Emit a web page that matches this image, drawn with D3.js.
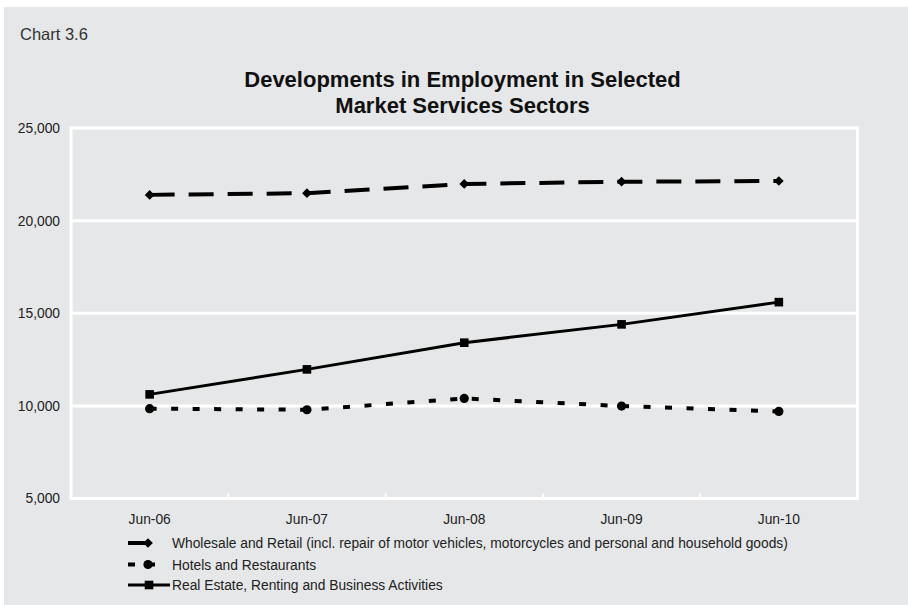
<!DOCTYPE html>
<html>
<head>
<meta charset="utf-8">
<script src="https://cdn.jsdelivr.net/npm/d3@7"></script>
<style>
  html, body { margin: 0; padding: 0; background: #ffffff; }
  svg { display: block; font-family: "Liberation Sans", Arial, Helvetica, sans-serif; }
</style>
</head>
<body>
<svg id="chart" width="908" height="605"></svg>
<script>
// ---- Data ----
const categories = ["Jun-06", "Jun-07", "Jun-08", "Jun-09", "Jun-10"];
const wholesaleValues = [21390, 21480, 21980, 22100, 22140];
const hotelsValues = [9850, 9790, 10400, 9990, 9700];
const realEstateValues = [10620, 11970, 13410, 14400, 15600];
const yTickValues = [5000, 10000, 15000, 20000, 25000];
const seriesNames = [
  "Wholesale and Retail (incl. repair of motor vehicles, motorcycles and personal and household goods)",
  "Hotels and Restaurants",
  "Real Estate, Renting and Business Activities"
];
const chartLabel = "Chart 3.6";
const titleLines = ["Developments in Employment in Selected", "Market Services Sectors"];

// ---- Layout ----
const svg = d3.select("#chart");
const bg = "#e6e7e8";
svg.append("rect").attr("x", 4).attr("y", 7).attr("width", 904).attr("height", 598).attr("fill", bg);

const plot = { left: 71, right: 857.5, top: 128, bottom: 498.5 };

const x = d3.scaleBand().domain(categories).range([plot.left, plot.right]).padding(0);
const y = d3.scaleLinear().domain([5000, 25000]).range([plot.bottom, plot.top]);
const cx = d => x(d) + x.bandwidth() / 2;

// Chart label + title
svg.append("text").attr("x", 20).attr("y", 40).attr("font-size", 16.5).attr("fill", "#333").text(chartLabel);
svg.append("g").selectAll("text").data(titleLines).join("text")
  .attr("x", 462.5).attr("y", (d, i) => 87 + i * 26)
  .attr("text-anchor", "middle").attr("font-size", 22).attr("font-weight", "bold").attr("fill", "#111")
  .text(d => d);

// Gridlines (white)
svg.append("g").selectAll("line").data(yTickValues).join("line")
  .attr("x1", plot.left).attr("x2", plot.right)
  .attr("y1", d => y(d)).attr("y2", d => y(d))
  .attr("stroke", "#fff").attr("stroke-width", 3);
// Frame
svg.append("rect").attr("x", plot.left).attr("y", plot.top)
  .attr("width", plot.right - plot.left).attr("height", plot.bottom - plot.top)
  .attr("fill", "none").attr("stroke", "#fff").attr("stroke-width", 3);

// Y axis labels
const yAxis = d3.axisLeft(y).tickValues(yTickValues).tickSize(0).tickPadding(0)
  .tickFormat(d3.format(","));
const gy = svg.append("g").attr("transform", `translate(60,0)`).call(yAxis);
gy.select(".domain").remove();
gy.selectAll("text").attr("font-size", 13.8).attr("fill", "#222")
  .attr("font-family", "'Liberation Sans', Arial, sans-serif");

// X axis: tick marks at category boundaries (white, pointing up)
const boundaries = categories.slice(1).map(c => x(c));
svg.append("g").selectAll("line").data(boundaries).join("line")
  .attr("x1", d => d).attr("x2", d => d)
  .attr("y1", plot.bottom).attr("y2", plot.bottom - 5)
  .attr("stroke", "#fff").attr("stroke-width", 2);

const xAxis = d3.axisBottom(x).tickSize(0).tickPadding(0);
const gx = svg.append("g").attr("transform", `translate(0,${plot.bottom + 16})`).call(xAxis);
gx.select(".domain").remove();
gx.selectAll("text").attr("font-size", 13.8).attr("fill", "#222")
  .attr("font-family", "'Liberation Sans', Arial, sans-serif");

// ---- Series ----
const series = [
  { name: seriesNames[0], values: wholesaleValues, dash: "25,14", width: 4, marker: "diamond" },
  { name: seriesNames[1], values: hotelsValues, dash: "7,14.5", width: 4, marker: "circle" },
  { name: seriesNames[2], values: realEstateValues, dash: null, width: 3, marker: "square" }
];

const line = d3.line().x(d => cx(d.cat)).y(d => y(d.v));

function drawMarker(g, type, px, py) {
  if (type === "diamond") {
    g.append("path").attr("d", d3.symbol(d3.symbolDiamond2, 60)()).attr("transform", `translate(${px},${py})`).attr("fill", "#000");
  } else if (type === "circle") {
    g.append("circle").attr("cx", px).attr("cy", py).attr("r", 4.6).attr("fill", "#000");
  } else {
    g.append("rect").attr("x", px - 4.3).attr("y", py - 4.3).attr("width", 8.6).attr("height", 8.6).attr("fill", "#000");
  }
}

series.forEach(s => {
  const pts = categories.map((c, i) => ({ cat: c, v: s.values[i] }));
  const g = svg.append("g");
  g.append("path").datum(pts).attr("d", line)
    .attr("fill", "none").attr("stroke", "#000").attr("stroke-width", s.width)
    .attr("stroke-dasharray", s.dash).attr("stroke-linejoin", "round");
  pts.forEach(p => drawMarker(g, s.marker, cx(p.cat), y(p.v)));
});

// ---- Legend ----
const legendY = [543, 564.5, 585];
const lg = svg.append("g");
// row 1: wholesale
lg.append("line").attr("x1", 128).attr("x2", 150).attr("y1", legendY[0]).attr("y2", legendY[0]).attr("stroke", "#000").attr("stroke-width", 4);
drawMarker(lg, "diamond", 148, legendY[0]);
// row 2: hotels
lg.append("line").attr("x1", 128).attr("x2", 135).attr("y1", legendY[1]).attr("y2", legendY[1]).attr("stroke", "#000").attr("stroke-width", 4);
lg.append("line").attr("x1", 148).attr("x2", 155).attr("y1", legendY[1]).attr("y2", legendY[1]).attr("stroke", "#000").attr("stroke-width", 4);
drawMarker(lg, "circle", 148, legendY[1]);
// row 3: real estate
lg.append("line").attr("x1", 128).attr("x2", 170).attr("y1", legendY[2]).attr("y2", legendY[2]).attr("stroke", "#000").attr("stroke-width", 3);
drawMarker(lg, "square", 149, legendY[2]);

lg.selectAll("text").data(seriesNames).join("text")
  .attr("x", 172)
  .attr("y", (d, i) => legendY[i] + 5)
  .attr("font-size", 13.8).attr("fill", "#222")
  .text(d => d);
</script>
</body>
</html>
